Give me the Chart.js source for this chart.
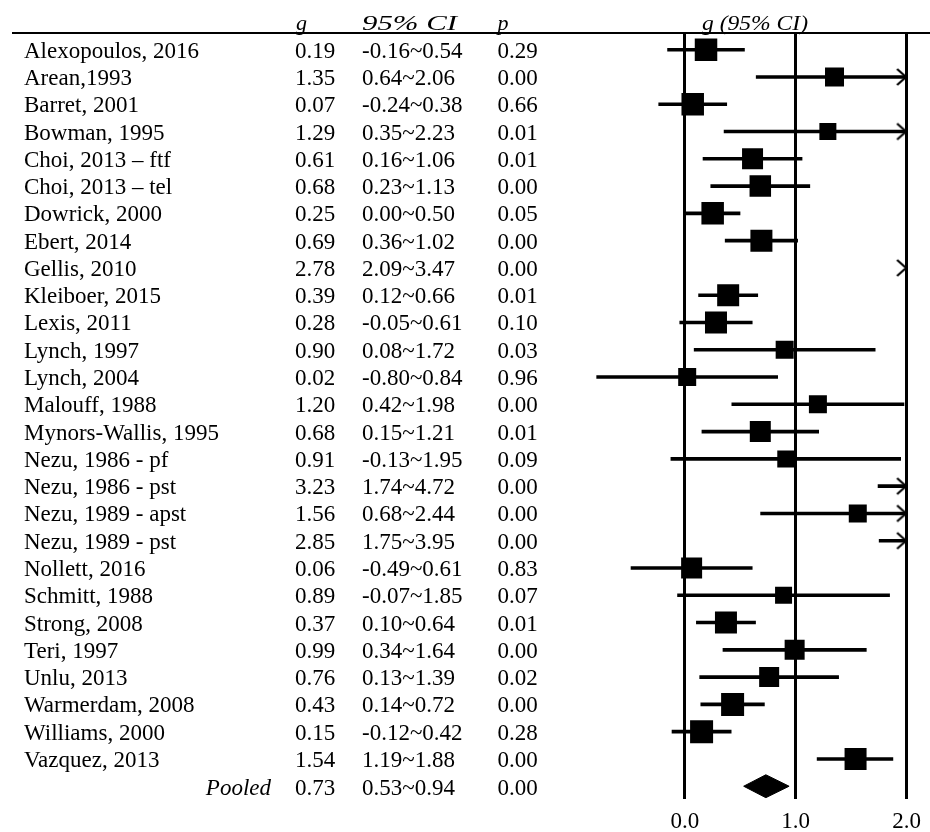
<!DOCTYPE html>
<html>
<head>
<meta charset="utf-8">
<script src="https://cdn.jsdelivr.net/npm/chart.js@4.4.1/dist/chart.umd.min.js"></script>
<style>
html,body{margin:0;padding:0;background:#fff;}
#wrap{width:930px;height:832px;position:relative;}
</style>
</head>
<body>
<div id="wrap"><canvas id="c" width="930" height="832"></canvas></div>
<script>
// ---------- data ----------
const studyLabels = ['Alexopoulos, 2016','Arean,1993','Barret, 2001','Bowman, 1995','Choi, 2013 \u2013 ftf','Choi, 2013 \u2013 tel','Dowrick, 2000','Ebert, 2014','Gellis, 2010','Kleiboer, 2015','Lexis, 2011','Lynch, 1997','Lynch, 2004','Malouff, 1988','Mynors-Wallis, 1995','Nezu, 1986 - pf','Nezu, 1986 - pst','Nezu, 1989 - apst','Nezu, 1989 - pst','Nollett, 2016','Schmitt, 1988','Strong, 2008','Teri, 1997','Unlu, 2013','Warmerdam, 2008','Williams, 2000','Vazquez, 2013'];
const gValues = [0.19,1.35,0.07,1.29,0.61,0.68,0.25,0.69,2.78,0.39,0.28,0.90,0.02,1.20,0.68,0.91,3.23,1.56,2.85,0.06,0.89,0.37,0.99,0.76,0.43,0.15,1.54];
const ciLower = [-0.16,0.64,-0.24,0.35,0.16,0.23,0.00,0.36,2.09,0.12,-0.05,0.08,-0.80,0.42,0.15,-0.13,1.74,0.68,1.75,-0.49,-0.07,0.10,0.34,0.13,0.14,-0.12,1.19];
const ciUpper = [0.54,2.06,0.38,2.23,1.06,1.13,0.50,1.02,3.47,0.66,0.61,1.72,0.84,1.98,1.21,1.95,4.72,2.44,3.95,0.61,1.85,0.64,1.64,1.39,0.72,0.42,1.88];
const pValues = ['0.29','0.00','0.66','0.01','0.01','0.00','0.05','0.00','0.00','0.01','0.10','0.03','0.96','0.00','0.01','0.09','0.00','0.00','0.00','0.83','0.07','0.01','0.00','0.02','0.00','0.28','0.00'];
const markerSizes = [22.5,19,22.5,17,21,21.5,22.5,22,18,22,22,18,18,18,21,17,18,18,18,21,17,22,20,20,23,23,22];

const pooledLabel = 'Pooled';
const pooledG = 0.73;
const pooledLower = 0.53;
const pooledUpper = 0.94;
const pooledP = '0.00';

const xTicks = [0, 1, 2];
const headerG = 'g';
const headerCI = '95% CI';
const headerP = 'p';
const headerPlot = 'g (95% CI)';

// ---------- derived ----------
const nRows = studyLabels.length;
const pooledRow = nRows + 1;
const xLimit = xTicks[xTicks.length - 1];

const ciData = [];
studyLabels.forEach((s, i) => {
  if (ciLower[i] < xLimit) {
    ciData.push({x: ciLower[i], y: i + 1}, {x: Math.min(ciUpper[i], xLimit), y: i + 1});
  }
  ciData.push({x: null, y: null});
});
const arrowData = [];
studyLabels.forEach((s, i) => { if (ciUpper[i] > xLimit) arrowData.push({x: xLimit, y: i + 1}); });
const squareData = gValues.map((g, i) => ({x: g, y: i + 1}));
const DH = 0.42;
const diamondData = [
  {x: pooledLower, y: pooledRow},
  {x: pooledG, y: pooledRow - DH},
  {x: pooledUpper, y: pooledRow},
  {x: pooledG, y: pooledRow + DH},
  {x: pooledLower, y: pooledRow}
];

function makeArrow() {
  const c = document.createElement('canvas');
  c.width = 26; c.height = 22;
  const g = c.getContext('2d');
  g.strokeStyle = '#000'; g.lineWidth = 2.2; g.lineJoin = 'miter';
  g.beginPath(); g.moveTo(3.5, 3); g.lineTo(12.5, 11); g.lineTo(3.5, 19); g.stroke();
  return c;
}

const FONT = '"Liberation Serif", "Times New Roman", serif';
const COL = {name: 24, g: 295, ci: 362, p: 497.5, pooledRight: 271, plotHead: 755, ruleLeft: 12};
const HEAD = {size: 22, ciWidth: 95, plotWidth: 106};

function stretchText(ctx, text, x, y, targetW, align) {
  const w = ctx.measureText(text).width;
  const sx = targetW ? targetW / w : 1;
  ctx.save();
  const left = align === 'center' ? x - (w * sx) / 2 : x;
  ctx.translate(left, y);
  ctx.scale(sx, 1);
  ctx.textAlign = 'left';
  ctx.fillText(text, 0, 0);
  ctx.restore();
}

const tablePlugin = {
  id: 'forestTable',
  afterDraw(chart) {
    const ctx = chart.ctx, ys = chart.scales.y, area = chart.chartArea;
    ctx.save();
    ctx.fillStyle = '#000';
    ctx.strokeStyle = '#000';
    // header rule
    ctx.lineWidth = 2.2;
    ctx.beginPath();
    ctx.moveTo(COL.ruleLeft, area.top);
    ctx.lineTo(chart.width, area.top);
    ctx.stroke();
    // headers
    ctx.textBaseline = 'alphabetic';
    ctx.font = 'italic ' + HEAD.size + 'px ' + FONT;
    const hy = area.top - 3;
    stretchText(ctx, headerG, COL.g + 1, hy, 0, 'left');
    stretchText(ctx, headerCI, COL.ci, hy, HEAD.ciWidth, 'left');
    stretchText(ctx, headerP, COL.p, hy, 0, 'left');
    stretchText(ctx, headerPlot, COL.plotHead, hy, HEAD.plotWidth, 'center');
    // rows
    ctx.font = '23px ' + FONT;
    ctx.textAlign = 'left';
    studyLabels.forEach((s, i) => {
      const y = ys.getPixelForValue(i + 1) + 8;
      ctx.fillText(s, COL.name, y);
      ctx.fillText(gValues[i].toFixed(2), COL.g, y);
      ctx.fillText(ciLower[i].toFixed(2) + '~' + ciUpper[i].toFixed(2), COL.ci, y);
      ctx.fillText(pValues[i], COL.p, y);
    });
    const py = ys.getPixelForValue(pooledRow) + 9;
    ctx.fillText(pooledG.toFixed(2), COL.g, py);
    ctx.fillText(pooledLower.toFixed(2) + '~' + pooledUpper.toFixed(2), COL.ci, py);
    ctx.fillText(pooledP, COL.p, py);
    ctx.font = 'italic 23px ' + FONT;
    ctx.textAlign = 'right';
    ctx.fillText(pooledLabel, COL.pooledRight, py);
    ctx.restore();
  }
};

new Chart(document.getElementById('c'), {
  type: 'scatter',
  data: {
    datasets: [
      {
        label: 'g',
        data: squareData,
        pointStyle: 'rect',
        pointRadius: ctx => markerSizes[ctx.dataIndex] / Math.SQRT2,
        backgroundColor: '#000',
        borderWidth: 0,
        clip: 0
      },
      {
        label: 'pooled',
        data: diamondData,
        showLine: true,
        fill: 'shape',
        backgroundColor: '#000',
        borderColor: '#000',
        borderWidth: 1,
        pointRadius: 0,
        tension: 0
      },
      {
        label: 'arrows',
        data: arrowData,
        pointStyle: makeArrow(),
        pointRadius: 10,
        clip: false
      },
      {
        label: 'ci',
        data: ciData,
        showLine: true,
        spanGaps: false,
        borderColor: '#000',
        borderWidth: 3.6,
        borderCapStyle: 'butt',
        pointRadius: 0,
        tension: 0
      }
    ]
  },
  options: {
    responsive: false,
    animation: false,
    devicePixelRatio: 1,
    events: [],
    layout: {autoPadding: false, padding: {top: 33, left: 574.2, right: 0, bottom: 0}},
    plugins: {legend: {display: false}, tooltip: {enabled: false}, title: {display: false}},
    scales: {
      x: {
        type: 'linear',
        min: -1,
        max: 2.212,
        afterBuildTicks: axis => { axis.ticks = xTicks.map(v => ({value: v})); },
        afterFit: axis => { axis.height = 33.5; axis.paddingLeft = 0; axis.paddingRight = 0; axis.paddingTop = 0; axis.paddingBottom = 0; },
        ticks: {
          callback: v => Number(v).toFixed(1),
          font: {family: FONT, size: 23},
          color: '#000',
          padding: 10,
          maxRotation: 0,
          autoSkip: false
        },
        grid: {color: '#000', lineWidth: 3, drawTicks: false},
        border: {display: false}
      },
      y: {
        type: 'linear',
        reverse: true,
        min: 0.388,
        max: 28.45,
        display: false
      }
    }
  },
  plugins: [tablePlugin]
});
</script>
</body>
</html>
